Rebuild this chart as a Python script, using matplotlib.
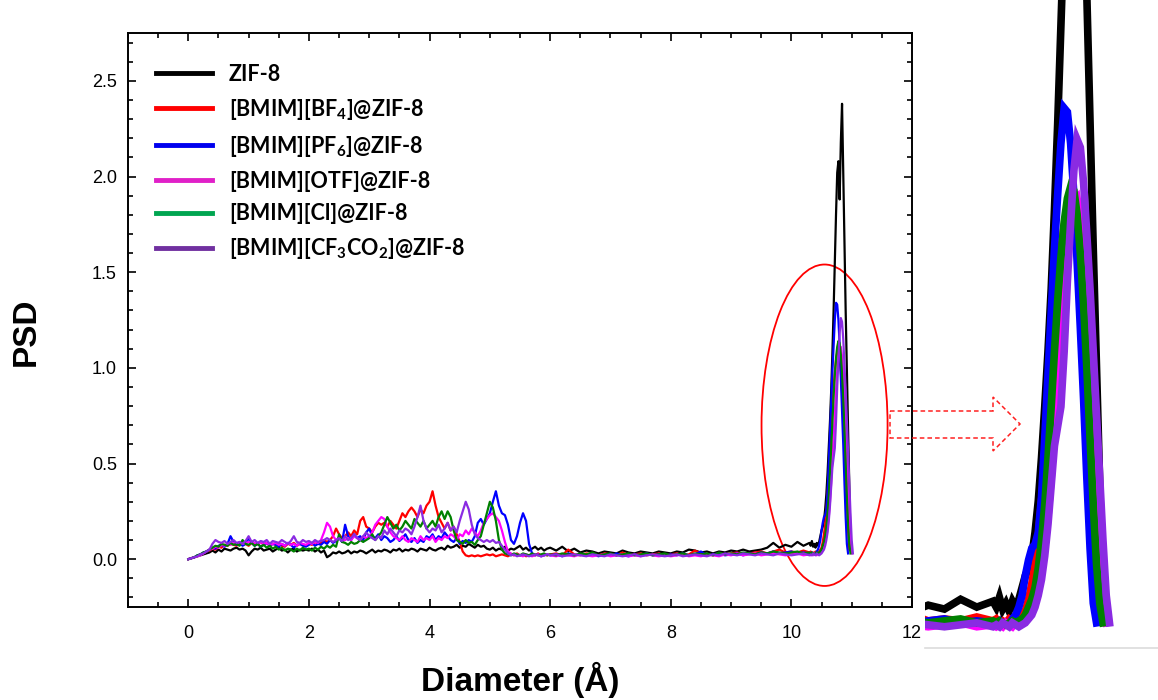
import numpy as np
import matplotlib
matplotlib.use("Agg")
import matplotlib.pyplot as plt
from matplotlib.lines import Line2D
from matplotlib.patches import Ellipse, Polygon

plt.rcParams['font.family'] = ['Liberation Sans', 'DejaVu Sans']
plt.rcParams['mathtext.fontset'] = 'custom'
plt.rcParams['mathtext.rm'] = 'Lato:bold'
plt.rcParams['mathtext.it'] = 'Lato:bold'
plt.rcParams['mathtext.bf'] = 'Lato:bold'
plt.rcParams['mathtext.default'] = 'rm'

# ---------------- data ----------------
# x grid: 0-5.95 (step .05), 6.0-10.3 (step .1), 10.32-11.10 (step .02)
xa = np.round(np.arange(120) * 0.05, 2)
xb = np.round(6.0 + np.arange(44) * 0.1, 2)
xc = np.round(10.32 + np.arange(40) * 0.02, 2)
diameter = np.concatenate([xa, xb, xc])

labels = ['ZIF-8', '[BMIM][BF$_4$]@ZIF-8', '[BMIM][PF$_6$]@ZIF-8',
          '[BMIM][OTF]@ZIF-8', '[BMIM][Cl]@ZIF-8', '[BMIM][CF$_3$CO$_2$]@ZIF-8']

zif8_a = [0.00, 0.005, 0.01, 0.015, 0.02, 0.025, 0.03, 0.035, 0.045, 0.035, 0.05, 0.04, 0.055, 0.05, 0.045, 0.055, 0.06, 0.05, 0.055, 0.045,
          0.02, 0.04, 0.055, 0.05, 0.06, 0.045, 0.05, 0.055, 0.04, 0.05, 0.06, 0.045, 0.05, 0.035, 0.05, 0.055, 0.04, 0.05, 0.045, 0.05,
          0.045, 0.055, 0.04, 0.05, 0.035, 0.045, 0.01, 0.02, 0.035, 0.03, 0.04, 0.03, 0.035, 0.045, 0.03, 0.04, 0.035, 0.045, 0.04, 0.03,
          0.04, 0.05, 0.035, 0.045, 0.04, 0.05, 0.045, 0.035, 0.05, 0.045, 0.055, 0.04, 0.05, 0.045, 0.055, 0.05, 0.04, 0.055, 0.05, 0.045,
          0.06, 0.05, 0.045, 0.055, 0.06, 0.05, 0.07, 0.06, 0.065, 0.075, 0.06, 0.07, 0.065, 0.08, 0.07, 0.06, 0.075, 0.065, 0.07, 0.055,
          0.05, 0.06, 0.045, 0.055, 0.05, 0.065, 0.045, 0.055, 0.05, 0.06, 0.07, 0.05, 0.06, 0.045, 0.055, 0.065, 0.05, 0.06, 0.045, 0.055]
zif8_b = [0.06, 0.045, 0.065, 0.04, 0.055, 0.035, 0.045, 0.04, 0.03, 0.04, 0.035, 0.03, 0.045, 0.035, 0.03, 0.04, 0.035, 0.03, 0.04, 0.035,
          0.03, 0.04, 0.035, 0.05, 0.045, 0.035, 0.04, 0.03, 0.04, 0.035, 0.045, 0.04, 0.05, 0.04, 0.045, 0.05, 0.06, 0.085, 0.06, 0.075,
          0.065, 0.09, 0.07, 0.085]
zif8_c = [0.07, 0.095, 0.065, 0.08, 0.06, 0.085, 0.07, 0.09, 0.12, 0.15, 0.17, 0.2, 0.26, 0.34, 0.45, 0.58, 0.72, 0.88, 1.08, 1.3,
          1.55, 1.8, 2.02, 2.08, 1.88, 2.18, 2.38, 2.02, 1.63, 1.3, 0.98, 0.68, 0.38, 0.1]

bf4_a = [0.0, 0.005, 0.01, 0.015, 0.025, 0.03, 0.04, 0.045, 0.055, 0.05, 0.065, 0.06, 0.075, 0.07, 0.08, 0.075, 0.07, 0.085, 0.075, 0.08,
         0.07, 0.085, 0.075, 0.08, 0.09, 0.075, 0.085, 0.07, 0.08, 0.075, 0.085, 0.07, 0.065, 0.08, 0.075, 0.085, 0.07, 0.08, 0.075, 0.07,
         0.08, 0.075, 0.09, 0.08, 0.085, 0.1, 0.09, 0.1, 0.12, 0.16, 0.13, 0.11, 0.12, 0.14, 0.12, 0.15, 0.13, 0.2, 0.22, 0.17,
         0.16, 0.14, 0.17, 0.19, 0.18, 0.19, 0.17, 0.2, 0.18, 0.16, 0.2, 0.24, 0.22, 0.25, 0.27, 0.25, 0.22, 0.26, 0.24, 0.28,
         0.3, 0.355, 0.28, 0.22, 0.19, 0.16, 0.19, 0.15, 0.17, 0.13, 0.09, 0.04, 0.02, 0.015, 0.02, 0.015, 0.02, 0.015, 0.02, 0.025,
         0.02, 0.025, 0.015, 0.02, 0.025, 0.02, 0.015, 0.025, 0.02, 0.03, 0.02, 0.025, 0.015, 0.02, 0.025, 0.02, 0.03, 0.02, 0.025, 0.02]
bf4_b = [0.025, 0.03, 0.02, 0.05, 0.025, 0.02, 0.03, 0.025, 0.02, 0.03, 0.025, 0.02, 0.035, 0.02, 0.025, 0.03, 0.02, 0.025, 0.03, 0.02,
         0.025, 0.03, 0.02, 0.025, 0.045, 0.03, 0.025, 0.02, 0.03, 0.025, 0.03, 0.035, 0.025, 0.03, 0.035, 0.04, 0.03, 0.04, 0.05, 0.035,
         0.04, 0.035, 0.045, 0.035]
bf4_c = [0.04, 0.03, 0.035, 0.03, 0.04, 0.035, 0.03, 0.04, 0.05, 0.06, 0.09, 0.13, 0.18, 0.25, 0.34, 0.44, 0.55, 0.66, 0.78, 0.9,
         0.98, 1.04, 1.08, 1.09, 1.05, 0.98, 0.88, 0.75, 0.6, 0.45, 0.3, 0.15, 0.05]

pf6_a = [0.0, 0.005, 0.01, 0.02, 0.025, 0.035, 0.04, 0.05, 0.06, 0.055, 0.07, 0.075, 0.065, 0.08, 0.12, 0.09, 0.075, 0.085, 0.07, 0.08,
         0.11, 0.085, 0.07, 0.08, 0.065, 0.075, 0.085, 0.07, 0.08, 0.075, 0.065, 0.08, 0.07, 0.085, 0.075, 0.06, 0.075, 0.08, 0.07, 0.065,
         0.075, 0.085, 0.07, 0.08, 0.075, 0.09, 0.08, 0.1, 0.085, 0.095, 0.11, 0.09, 0.18, 0.12, 0.1, 0.13, 0.11, 0.12, 0.1, 0.14,
         0.16, 0.12, 0.11, 0.13, 0.1, 0.12, 0.11, 0.09, 0.1, 0.12, 0.095, 0.11, 0.13, 0.1, 0.09, 0.11, 0.085, 0.1, 0.09, 0.12,
         0.11, 0.13, 0.1, 0.12, 0.11, 0.14, 0.12, 0.1, 0.09, 0.11, 0.08, 0.095, 0.085, 0.1, 0.09, 0.12, 0.19, 0.21, 0.18, 0.21,
         0.24, 0.3, 0.355, 0.28, 0.24, 0.23, 0.18, 0.1, 0.08, 0.12, 0.19, 0.24, 0.2, 0.08, 0.03, 0.02, 0.025, 0.015, 0.02, 0.025]
pf6_b = [0.02, 0.025, 0.015, 0.03, 0.02, 0.025, 0.02, 0.03, 0.015, 0.025, 0.02, 0.03, 0.02, 0.015, 0.025, 0.02, 0.03, 0.02, 0.025, 0.02,
         0.025, 0.02, 0.03, 0.02, 0.025, 0.04, 0.02, 0.025, 0.03, 0.02, 0.025, 0.03, 0.02, 0.03, 0.025, 0.035, 0.03, 0.04, 0.03, 0.035,
         0.04, 0.03, 0.035, 0.03]
pf6_c = [0.03, 0.035, 0.025, 0.03, 0.025, 0.04, 0.05, 0.07, 0.1, 0.15, 0.19, 0.22, 0.23, 0.26, 0.35, 0.5, 0.66, 0.82, 0.98, 1.12,
         1.25, 1.34, 1.33, 1.25, 1.12, 0.95, 0.78, 0.6, 0.4, 0.22, 0.08, 0.03]

otf_a = [0.0, 0.005, 0.01, 0.015, 0.02, 0.03, 0.04, 0.05, 0.055, 0.065, 0.06, 0.075, 0.07, 0.08, 0.075, 0.085, 0.08, 0.09, 0.08, 0.085,
         0.09, 0.08, 0.085, 0.075, 0.09, 0.08, 0.085, 0.075, 0.08, 0.085, 0.075, 0.08, 0.07, 0.085, 0.075, 0.08, 0.07, 0.085, 0.08, 0.075,
         0.085, 0.08, 0.09, 0.085, 0.1, 0.14, 0.19, 0.17, 0.12, 0.1, 0.11, 0.095, 0.1, 0.11, 0.1, 0.12, 0.11, 0.1, 0.12, 0.11,
         0.12, 0.14, 0.18, 0.2, 0.22, 0.21, 0.17, 0.14, 0.12, 0.11, 0.1, 0.12, 0.1, 0.09, 0.11, 0.1, 0.09, 0.12, 0.1, 0.11,
         0.1, 0.12, 0.09, 0.11, 0.1, 0.12, 0.11, 0.13, 0.12, 0.1, 0.13, 0.12, 0.15, 0.13, 0.16, 0.14, 0.12, 0.15, 0.19, 0.21,
         0.23, 0.24, 0.22, 0.2, 0.15, 0.09, 0.04, 0.03, 0.02, 0.025, 0.02, 0.015, 0.025, 0.02, 0.015, 0.02, 0.025, 0.015, 0.02, 0.025]
otf_b = [0.02, 0.015, 0.025, 0.02, 0.015, 0.025, 0.02, 0.015, 0.02, 0.025, 0.015, 0.02, 0.025, 0.015, 0.02, 0.015, 0.025, 0.02, 0.015, 0.02,
         0.015, 0.02, 0.025, 0.015, 0.02, 0.015, 0.025, 0.02, 0.015, 0.025, 0.02, 0.03, 0.02, 0.025, 0.03, 0.02, 0.025, 0.03, 0.025, 0.02,
         0.025, 0.03, 0.02, 0.025]
otf_c = [0.02, 0.025, 0.02, 0.03, 0.025, 0.02, 0.03, 0.025, 0.03, 0.04, 0.05, 0.07, 0.09, 0.12, 0.16, 0.22, 0.3, 0.4, 0.52, 0.65,
         0.77, 0.88, 0.98, 1.05, 1.1, 1.11, 1.06, 0.97, 0.84, 0.68, 0.5, 0.33, 0.18, 0.07, 0.03]

cl_a = [0.0, 0.005, 0.01, 0.02, 0.025, 0.035, 0.04, 0.05, 0.06, 0.07, 0.065, 0.08, 0.075, 0.07, 0.085, 0.075, 0.08, 0.07, 0.1, 0.08,
        0.075, 0.085, 0.07, 0.08, 0.065, 0.075, 0.06, 0.07, 0.055, 0.065, 0.05, 0.06, 0.045, 0.055, 0.05, 0.04, 0.055, 0.045, 0.06, 0.05,
        0.055, 0.045, 0.06, 0.05, 0.065, 0.055, 0.07, 0.06, 0.075, 0.065, 0.13, 0.09, 0.085, 0.075, 0.09, 0.08, 0.085, 0.1, 0.09, 0.1,
        0.11, 0.13, 0.1, 0.12, 0.14, 0.18, 0.22, 0.19, 0.16, 0.18, 0.15, 0.17, 0.2, 0.18, 0.16, 0.21, 0.19, 0.17, 0.2, 0.16,
        0.18, 0.2, 0.17, 0.22, 0.25, 0.21, 0.25, 0.22, 0.15, 0.1, 0.09, 0.08, 0.1, 0.085, 0.09, 0.075, 0.1, 0.12, 0.18, 0.24,
        0.3, 0.27, 0.2, 0.1, 0.05, 0.03, 0.025, 0.02, 0.03, 0.025, 0.02, 0.03, 0.025, 0.02, 0.03, 0.025, 0.02, 0.025, 0.03, 0.02]
cl_b = [0.025, 0.02, 0.03, 0.025, 0.02, 0.03, 0.025, 0.035, 0.02, 0.025, 0.03, 0.02, 0.025, 0.03, 0.02, 0.025, 0.03, 0.02, 0.025, 0.03,
        0.02, 0.025, 0.03, 0.02, 0.03, 0.025, 0.03, 0.02, 0.035, 0.025, 0.03, 0.025, 0.035, 0.03, 0.025, 0.035, 0.03, 0.04, 0.035, 0.03,
        0.035, 0.04, 0.03, 0.035]
cl_c = [0.03, 0.035, 0.03, 0.025, 0.03, 0.035, 0.03, 0.035, 0.04, 0.05, 0.07, 0.09, 0.12, 0.17, 0.24, 0.33, 0.45, 0.58, 0.72, 0.85,
        0.96, 1.05, 1.11, 1.14, 1.13, 1.07, 0.97, 0.84, 0.68, 0.5, 0.33, 0.18, 0.08, 0.03]

cf3_a = [0.0, 0.005, 0.01, 0.015, 0.025, 0.03, 0.04, 0.05, 0.08, 0.1, 0.09, 0.085, 0.095, 0.08, 0.09, 0.1, 0.085, 0.09, 0.08, 0.095,
         0.12, 0.09, 0.1, 0.085, 0.095, 0.09, 0.1, 0.08, 0.095, 0.09, 0.085, 0.1, 0.09, 0.08, 0.095, 0.12, 0.09, 0.085, 0.1, 0.09,
         0.095, 0.085, 0.1, 0.09, 0.095, 0.1, 0.11, 0.1, 0.09, 0.1, 0.11, 0.095, 0.12, 0.1, 0.11, 0.13, 0.11, 0.1, 0.12, 0.14,
         0.12, 0.11, 0.1, 0.12, 0.11, 0.15, 0.13, 0.16, 0.14, 0.12, 0.15, 0.14, 0.16, 0.15, 0.13, 0.17, 0.22, 0.28, 0.2, 0.16,
         0.14, 0.16, 0.15, 0.18, 0.14, 0.16, 0.19, 0.15, 0.17, 0.14, 0.2, 0.25, 0.3, 0.26, 0.18, 0.13, 0.11, 0.1, 0.09, 0.1,
         0.09, 0.1, 0.085, 0.09, 0.07, 0.05, 0.03, 0.02, 0.025, 0.015, 0.02, 0.025, 0.02, 0.015, 0.02, 0.025, 0.02, 0.015, 0.02, 0.025]
cf3_b = [0.02, 0.025, 0.015, 0.02, 0.025, 0.02, 0.015, 0.025, 0.02, 0.015, 0.025, 0.02, 0.015, 0.02, 0.025, 0.015, 0.02, 0.025, 0.02, 0.015,
         0.02, 0.025, 0.015, 0.02, 0.025, 0.02, 0.015, 0.025, 0.02, 0.03, 0.025, 0.02, 0.03, 0.025, 0.02, 0.03, 0.025, 0.02, 0.03, 0.025,
         0.02, 0.025, 0.03, 0.02]
cf3_c = [0.025, 0.02, 0.03, 0.025, 0.02, 0.03, 0.025, 0.02, 0.025, 0.03, 0.04, 0.05, 0.07, 0.1, 0.14, 0.2, 0.28, 0.38, 0.48, 0.53,
         0.58, 0.72, 0.9, 1.05, 1.18, 1.26, 1.24, 1.15, 1.02, 0.88, 0.72, 0.56, 0.4, 0.24, 0.1, 0.03]

line_colors = ['#000000', '#ff0000', '#0000ff', '#ff00ff', '#008000', '#8a2be2']
legend_colors = ['#000000', '#ff0000', '#0000ee', '#e020c8', '#00a550', '#7030a0']


def build(a, b, c):
    def pad(v, n):
        v = list(v)[:n]
        return v + [np.nan] * (n - len(v))
    return np.array(pad(a, len(xa)) + pad(b, len(xb)) + pad(c, len(xc)), dtype=float)


series = [build(zif8_a, zif8_b, zif8_c), build(bf4_a, bf4_b, bf4_c), build(pf6_a, pf6_b, pf6_c),
          build(otf_a, otf_b, otf_c), build(cl_a, cl_b, cl_c), build(cf3_a, cf3_b, cf3_c)]

# ---------------- figure ----------------
W, H = 1158, 700
fig = plt.figure(figsize=(W / 100, H / 100), dpi=100)
ax = fig.add_axes([128 / W, 1 - 607 / H, (912 - 128) / W, (607 - 33) / H])

for y, col in zip(series, line_colors):
    ax.plot(diameter, y, color=col, lw=1.6)

ax.set_xlim(-1, 12)
ax.set_ylim(-0.25, 2.75)
ax.set_xticks(np.arange(0, 13, 2))
ax.set_xticks(np.arange(-1, 12.01, 0.5), minor=True)
ax.set_yticks(np.arange(0, 2.51, 0.5))
ax.set_yticks(np.arange(-0.2, 2.75, 0.1), minor=True)
ax.set_yticklabels(['0.0', '0.5', '1.0', '1.5', '2.0', '2.5'])
ax.tick_params(which='both', direction='in', top=True, right=True, width=1.2)
ax.tick_params(which='major', length=6)
ax.tick_params(which='minor', length=3.5)
ax.tick_params(axis='x', which='major', labelsize=13, pad=13)
ax.tick_params(axis='y', which='major', labelsize=13, pad=8)
for s in ax.spines.values():
    s.set_linewidth(1.4)

ax.set_xlabel('Diameter (Å)', fontsize=24, fontweight='bold', labelpad=14)
ax.set_ylabel('PSD', fontsize=24, fontweight='bold')
ax.yaxis.set_label_coords(-0.110, 0.479)

handles = [Line2D([], [], color=c, lw=3.5) for c in legend_colors]
ax.legend(handles, labels, loc='upper left', bbox_to_anchor=(0.036, 0.946),
          frameon=False, borderpad=0, borderaxespad=0, handlelength=2.6,
          handletextpad=0.78, labelspacing=0.55,
          prop={'family': 'Lato', 'weight': 'bold', 'size': 15.5})

ax.add_patch(Ellipse((10.55, 0.70), width=2.09, height=1.68, fill=False,
                     ec='#ff0000', lw=1.3))

# dashed outline arrow (figure pixel coords)
pts = [(890, 411), (993, 411), (993, 397), (1020, 424), (993, 451), (993, 438), (890, 438)]
arrow = Polygon([(px / W, 1 - py / H) for px, py in pts], closed=True, fill=False,
                ec='#ff2020', lw=1.1, ls=(0, (3, 2)), transform=fig.transFigure)
fig.add_artist(arrow)

# zoomed panel on the right
axz = fig.add_axes([925 / W, 1 - 648 / H, (W - 925) / W, 648 / H])
for y, col in zip(series, line_colors):
    axz.plot(diameter, y, color=col, lw=5.5, solid_joinstyle='miter')
axz.set_xlim(9.88, 11.32)
axz.set_ylim(-0.034, 1.615)
axz.set_xticks([])
axz.set_yticks([])
for k in ['top', 'left', 'right']:
    axz.spines[k].set_visible(False)
axz.spines['bottom'].set_color('#dcdcdc')
axz.spines['bottom'].set_linewidth(1.2)
axz.patch.set_alpha(0)

fig.savefig('out.png', dpi=100)
